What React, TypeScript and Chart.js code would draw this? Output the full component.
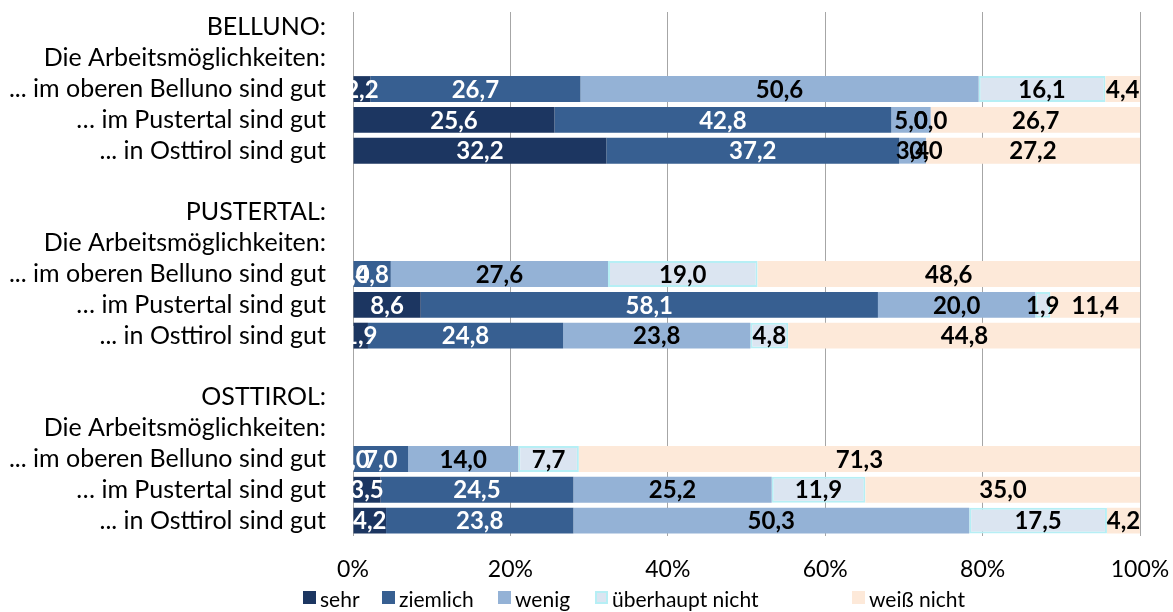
import React, { useEffect, useRef } from "react";
import { Chart, registerables } from "chart.js";

Chart.register(...registerables);

const categories = [
  "BELLUNO:",
  "Die Arbeitsmöglichkeiten:",
  "... im oberen Belluno sind gut",
  "… im Pustertal sind gut",
  "... in Osttirol sind gut",
  "",
  "PUSTERTAL:",
  "Die Arbeitsmöglichkeiten:",
  "... im oberen Belluno sind gut",
  "… im Pustertal sind gut",
  "... in Osttirol sind gut",
  " ",
  "OSTTIROL:",
  "Die Arbeitsmöglichkeiten:",
  "... im oberen Belluno sind gut",
  "… im Pustertal sind gut",
  "... in Osttirol sind gut",
];

const seriesNames = ["sehr", "ziemlich", "wenig", "überhaupt nicht", "weiß nicht"];

const sehr = [null, null, 2.2, 25.6, 32.2, null, null, null, 0.0, 8.6, 1.9, null, null, null, 0.0, 3.5, 4.2];
const ziemlich = [null, null, 26.7, 42.8, 37.2, null, null, null, 4.8, 58.1, 24.8, null, null, null, 7.0, 24.5, 23.8];
const wenig = [null, null, 50.6, 5.0, 3.4, null, null, null, 27.6, 20.0, 23.8, null, null, null, 14.0, 25.2, 50.3];
const ueberhauptNicht = [null, null, 16.1, 0.0, 0.0, null, null, null, 19.0, 1.9, 4.8, null, null, null, 7.7, 11.9, 17.5];
const weissNicht = [null, null, 4.4, 26.7, 27.2, null, null, null, 48.6, 11.4, 44.8, null, null, null, 71.3, 35.0, 4.2];

const xTicks = [0, 20, 40, 60, 80, 100];

const fills = ["#1C3661", "#375F91", "#94B2D6", "#DBE5F1", "#FDE9D9"];
const borders = ["#1C3661", "#375F91", "#94B2D6", "#B6EFF5", "#FDE9D9"];
const labelColors = ["#FFFFFF", "#FFFFFF", "#000000", "#000000", "#000000"];
const legendX = [303, 382, 498, 595, 852];

const FONT = "Lato";

const valueLabels = {
  id: "valueLabels",
  afterDatasetsDraw(chart: any) {
    const { ctx, chartArea } = chart;
    ctx.save();
    ctx.beginPath();
    ctx.rect(chartArea.left, 0, chart.width - chartArea.left, chart.height);
    ctx.clip();
    ctx.font = `bold 24px ${FONT}`;
    ctx.textAlign = "center";
    ctx.textBaseline = "middle";
    chart.data.datasets.forEach((ds: any, di: number) => {
      const meta = chart.getDatasetMeta(di);
      meta.data.forEach((el: any, i: number) => {
        const v = ds.data[i];
        if (v === null || v === undefined) return;
        const cx = (el.x + el.base) / 2;
        ctx.fillStyle = labelColors[di];
        ctx.fillText(v.toFixed(1).replace(".", ","), cx, el.y + 1);
      });
    });
    ctx.restore();
  },
};

const customLegend = {
  id: "customLegend",
  afterDraw(chart: any) {
    const { ctx } = chart;
    ctx.save();
    ctx.font = `21px ${FONT}`;
    ctx.textBaseline = "alphabetic";
    ctx.textAlign = "left";
    seriesNames.forEach((name, i) => {
      const x = legendX[i];
      ctx.fillStyle = fills[i];
      ctx.fillRect(x, 591, 13, 13);
      if (i === 3) {
        ctx.strokeStyle = borders[i];
        ctx.lineWidth = 2;
        ctx.strokeRect(x + 1, 592, 11, 11);
      }
      ctx.fillStyle = "#000";
      ctx.fillText(name, x + 17, 607);
    });
    ctx.restore();
  },
};

export default function App() {
  const ref = useRef<HTMLCanvasElement | null>(null);
  useEffect(() => {
    if (!ref.current) return;
    const datasetsData = [sehr, ziemlich, wenig, ueberhauptNicht, weissNicht];
    const chart = new Chart(ref.current, {
      type: "bar",
      data: {
        labels: categories,
        datasets: datasetsData.map((d, i) => ({
          label: seriesNames[i],
          data: d,
          backgroundColor: fills[i],
          borderColor: borders[i],
          borderWidth: i === 3 ? 2 : 0,
          borderSkipped: false,
          categoryPercentage: 1,
          barPercentage: 0.84,
        })),
      },
      options: {
        indexAxis: "y",
        animation: false,
        responsive: false,
        maintainAspectRatio: false,
        layout: { padding: { top: 12, right: 33, left: 0, bottom: 30 } },
        plugins: { legend: { display: false }, tooltip: { enabled: false } },
        scales: {
          x: {
            stacked: true,
            min: 0,
            max: 100,
            afterBuildTicks: (s: any) => {
              s.ticks = xTicks.map((v) => ({ value: v }));
            },
            ticks: {
              callback: (v: any) => v + "%",
              font: { family: FONT, size: 23 },
              color: "#000",
              padding: 20,
            },
            grid: { color: "#A6A6A6", drawTicks: false, lineWidth: 1 },
            border: { display: false },
            afterFit: (s: any) => {
              s.height = 46;
              s.paddingLeft = 0;
              s.paddingRight = 0;
            },
          },
          y: {
            stacked: true,
            ticks: {
              font: { family: FONT, size: 25 },
              color: "#000",
              padding: 27,
              autoSkip: false,
            },
            grid: { display: false, drawTicks: false },
            border: { display: false },
            afterFit: (s: any) => {
              s.width = 353;
              s.paddingTop = 0;
              s.paddingBottom = 0;
            },
          },
        },
      },
      plugins: [valueLabels, customLegend],
    });
    return () => chart.destroy();
  }, []);
  return (
    <div style={{ position: "fixed", left: 0, top: 0, width: 1173, height: 612, background: "#fff" }}>
      <canvas ref={ref} width={1173} height={612} style={{ width: 1173, height: 612 }} />
    </div>
  );
}
